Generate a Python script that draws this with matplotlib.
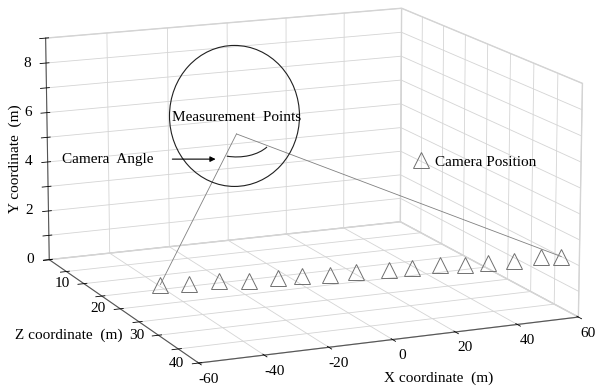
import numpy as np
import matplotlib
matplotlib.use('Agg')
import matplotlib.pyplot as plt
from matplotlib.patches import Ellipse, Arc, FancyArrowPatch
from matplotlib.lines import Line2D
from mpl_toolkits.mplot3d import proj3d

#------------------------------------------------------------------------------
# SETTINGS
#------------------------------------------------------------------------------

plt.rcParams['font.family'] = ['Liberation Serif', 'DejaVu Serif']
plt.rcParams['font.size'] = 11
plt.rcParams['axes.unicode_minus'] = False
plt.rcParams['grid.color'] = '#d4d4d4'
plt.rcParams['grid.linewidth'] = 0.6

gridcol = '#d4d4d4'
axiscol = '#555555'

# camera stations (X along road, Z depth, Y height) in metres
cam_x = [-60, -52, -43, -35, -26, -19, -11, -3, 7, 14, 23, 30, 37, 45, 54, 60]
cam_z = [30.6, 31.3, 31.6, 32.6, 32.6, 33.1, 33.6, 33.8, 34.2, 34.6, 34.5, 35.3, 35.7, 35.9, 35.8, 36.3]
cam_y = [2, 2, 2, 2, 2, 2, 2, 2, 2, 2, 2, 2, 2, 2, 2, 2]

# measurement point
meas_x, meas_z, meas_y = 3, 0, 4.4

x_ticks = [-60, -40, -20, 0, 20, 40, 60]
z_ticks = [0, 5, 10, 15, 20, 25, 30, 35, 40]
z_labels = ['', '', '10', '', '20', '', '30', '', '40']
y_ticks = [0, 1, 2, 3, 4, 5, 6, 7, 8, 9]
y_labels = ['0', '', '2', '', '4', '', '6', '', '8', '']

#------------------------------------------------------------------------------
# PLOT
#------------------------------------------------------------------------------

fig = plt.figure(figsize=(5.95, 3.9), dpi=100)
ax = fig.add_axes([0.057, 0.09, 0.9, 0.9], projection='3d')
ax.set_proj_type('persp', focal_length=2.0)
ax.view_init(elev=13.5, azim=-113.5)
ax.set_box_aspect((411, 425, 240), zoom=1.72)

# matplotlib: x = X coordinate, y = Z coordinate (reversed), z = Y coordinate
ax.set_xlim(-60, 60)
ax.set_ylim(40, 0)
ax.set_zlim(0, 9)

ax.set_xticks(x_ticks)
ax.set_yticks(z_ticks)
ax.set_zticks(y_ticks)
ax.set_xticklabels([])
ax.set_yticklabels([])
ax.set_zticklabels([])

for axis in [ax.xaxis, ax.yaxis, ax.zaxis]:
    axis.set_pane_color((1, 1, 1, 1))
    axis.pane.set_edgecolor(gridcol)
    axis.line.set_color(axiscol)
    axis.line.set_linewidth(0.8)
    axis._axinfo['tick']['color'] = axiscol
    axis._axinfo['tick']['linewidth'] = {True: 0.6, False: 0.6}

ax.plot(cam_x, cam_z, cam_y, linestyle='none', marker='^', markersize=11,
        markerfacecolor='none', markeredgecolor='#707070', markeredgewidth=0.7,
        clip_on=False)

# sight lines to the first and last camera
ax.plot([meas_x, cam_x[0]], [meas_z, cam_z[0]], [meas_y, cam_y[0]], color='#808080', lw=0.6,
        clip_on=False)
ax.plot([meas_x, cam_x[-1]], [meas_z, cam_z[-1]], [meas_y, cam_y[-1]], color='#808080', lw=0.6,
        clip_on=False)

leg_handle = Line2D([], [], linestyle='none', marker='^', markersize=11,
                    markerfacecolor='none', markeredgecolor='#707070', markeredgewidth=0.7)
fig.legend(handles=[leg_handle], labels=['Camera Position'], frameon=False,
           loc='center left', bbox_to_anchor=(0.695, 0.585), handlelength=1.0,
           handletextpad=0.4, borderaxespad=0, borderpad=0)

fig.text(0.025, 0.592, 'Y coordinate  (m)', rotation=90, ha='center', va='center')
fig.text(0.025, 0.141, 'Z coordinate  (m)', ha='left', va='center')
fig.text(0.645, 0.031, 'X coordinate  (m)', ha='left', va='center')

#------------------------------------------------------------------------------
# tick labels and annotations placed from projected positions
#------------------------------------------------------------------------------

fig.canvas.draw()
W, H = fig.bbox.width, fig.bbox.height
M = ax.get_proj()


def to_fig(x, z, y, dx=0, dy=0):
    # data point -> figure fraction, with an offset in pixels
    px, py, _ = proj3d.proj_transform(x, z, y, M)
    sx, sy = ax.transData.transform((px, py))
    return (sx + dx) / W, (sy + dy) / H


for v in x_ticks:
    fx, fy = to_fig(v, 40, 0, 10, -16)
    fig.text(fx, fy, str(v), ha='center', va='center')
for v, s in zip(z_ticks, z_labels):
    if s:
        fx, fy = to_fig(-60, v, 0, -22, 0)
        fig.text(fx, fy, s, ha='center', va='center')
for v, s in zip(y_ticks, y_labels):
    if s:
        fx, fy = to_fig(-60, 0, v, -19, 0)
        fig.text(fx, fy, s, ha='center', va='center')

mx, my = to_fig(meas_x, meas_z, meas_y)
circ = Ellipse((mx - 2 / W, my + 18 / H), 130 / W, 141 / H, transform=fig.transFigure,
               fill=False, edgecolor='#202020', lw=0.8)
fig.add_artist(circ)
arc = Arc((mx, my), 74 / W, 46 / H, theta1=254, theta2=327, transform=fig.transFigure,
          edgecolor='#202020', lw=0.8)
fig.add_artist(arc)
fig.text(mx, my + 16 / H, 'Measurement  Points', ha='center', va='center')

fig.text(0.105, 0.592, 'Camera  Angle', ha='left', va='center')
fig.add_artist(FancyArrowPatch((0.285, 0.592), (0.367, 0.592),
                               transform=fig.transFigure, arrowstyle='-|>',
                               mutation_scale=8, color='black', lw=0.8))

fig.savefig('out.png', dpi=100)
